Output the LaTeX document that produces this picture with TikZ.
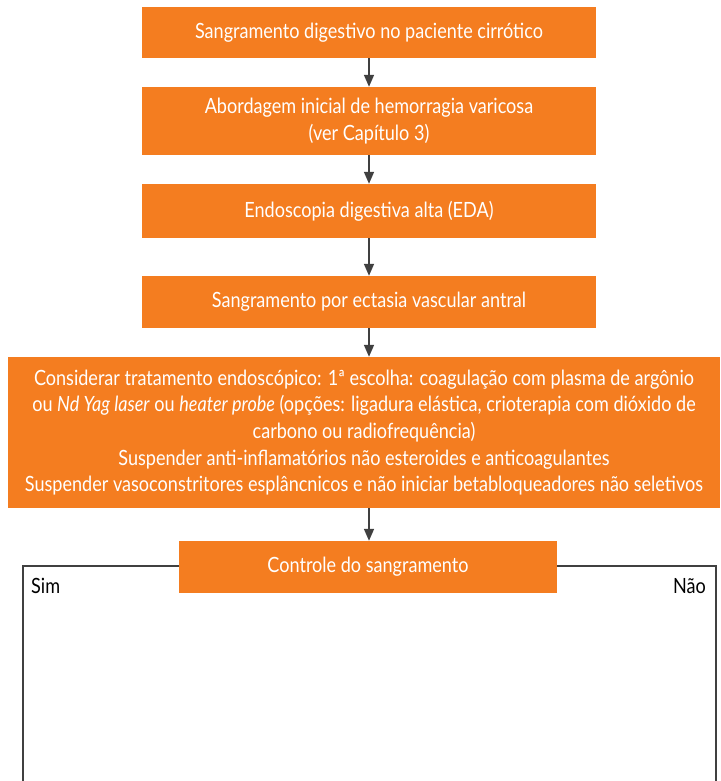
\documentclass[tikz,border=0pt]{standalone}
\usepackage{fontspec}
\setmainfont{Lato}[FakeStretch=0.86]
\usetikzlibrary{arrows.meta}
\definecolor{orangebox}{HTML}{F47D20}
\definecolor{arrowgray}{HTML}{404040}
\begin{document}
\begin{tikzpicture}[x=1pt,y=-1pt,
  obox/.style={fill=orangebox,draw=none,text=white,align=center,inner sep=0pt,
    font=\fontsize{21}{26.7}\selectfont},
  arr/.style={draw=arrowgray,line width=1.6pt,-{Triangle[length=12pt,width=10pt]}},
  branch/.style={draw=arrowgray,line width=1.3pt},
  lbl/.style={font=\fontsize{21}{24}\selectfont,text=black,inner sep=0pt}]
\useasboundingbox (0,0) rectangle (720,781);
\node[obox,minimum width=454pt,minimum height=51pt] (b1) at (369,32.5) {Sangramento digestivo no paciente cirrótico};
\node[obox,minimum width=454pt,minimum height=68pt] (b2) at (369,121) {Abordagem inicial de hemorragia varicosa\\(ver Capítulo 3)};
\node[obox,minimum width=454pt,minimum height=54pt] (b3) at (369,211) {Endoscopia digestiva alta (EDA)};
\node[obox,minimum width=454pt,minimum height=52pt] (b4) at (369,302) {Sangramento por ectasia vascular antral};
\node[obox,minimum width=712pt,minimum height=151pt] (b5) at (364,432.5) {Considerar tratamento endoscópico: 1ª escolha: coagulação com plasma de argônio\\ou \textit{Nd Yag laser} ou \textit{heater probe} (opções: ligadura elástica, crioterapia com dióxido de\\carbono ou radiofrequência)\\Suspender anti-inflamatórios não esteroides e anticoagulantes\\Suspender vasoconstritores esplâncnicos e não iniciar betabloqueadores não seletivos};
\node[obox,minimum width=378pt,minimum height=52pt] (b6) at (368,567) {Controle do sangramento};
\coordinate (l1) at (23,566);
\coordinate (l2) at (23,781);
\coordinate (r1) at (716,566);
\coordinate (r2) at (716,781);
\draw[arr] (b1.south -| 369,0) -- (b2.north -| 369,0);
\draw[arr] (b2.south -| 369,0) -- (b3.north -| 369,0);
\draw[arr] (b3.south -| 369,0) -- (b4.north -| 369,0);
\draw[arr] (b4.south -| 369,0) -- (b5.north -| 369,0);
\draw[arr] (b5.south -| 369,0) -- (b6.north -| 369,0);
\draw[branch] (b6.west |- l1) -- (l1) -- (l2);
\draw[branch] (b6.east |- r1) -- (r1) -- (r2);
\node[lbl,anchor=west] (sim) at (31,586) {Sim};
\node[lbl,anchor=east] (nao) at (706,586) {Não};
\end{tikzpicture}
\end{document}
